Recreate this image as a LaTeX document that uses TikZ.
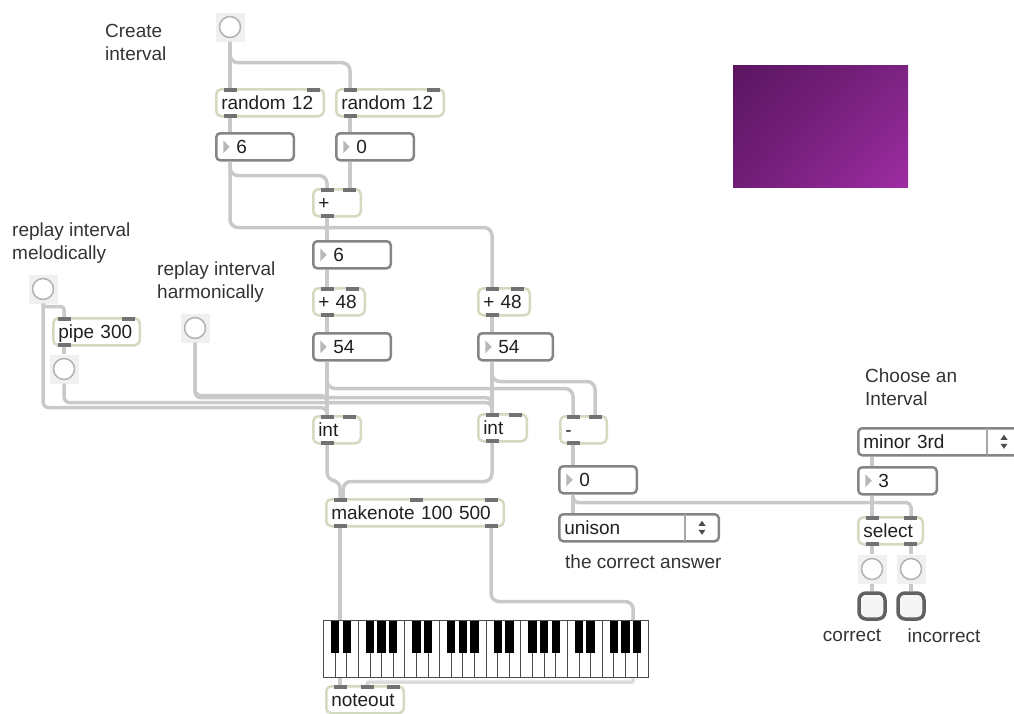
\documentclass[tikz,border=0pt]{standalone}
\usepackage{fontspec}
\setmainfont{Liberation Sans}
\usetikzlibrary{shadings}

\definecolor{objline}{HTML}{D2DABF}
\definecolor{numline}{HTML}{858585}
\definecolor{patchcord}{HTML}{C9C9C9}
\definecolor{tabgray}{HTML}{727272}
\definecolor{ink}{HTML}{202020}
\definecolor{swA}{HTML}{5A1560}
\definecolor{swB}{HTML}{7C2382}
\definecolor{swC}{HTML}{701E76}
\definecolor{swD}{HTML}{9E2CA3}

\newcommand{\inlettabs}[2]{%
  \foreach \o in {#2}{\fill[porttab] ([xshift=\o pt]#1.north west) rectangle ++(13,4);}}
\newcommand{\outlettabs}[2]{%
  \foreach \o in {#2}{\fill[porttab] ([xshift=\o pt]#1.south west) rectangle ++(13,-4);}}

\begin{document}
\begin{tikzpicture}[
    x=1pt, y=-1pt,
    every node/.style={font=\fontsize{19}{23}\selectfont, text=ink},
    objbase/.style={line width=2.5pt, fill=white, anchor=north west, align=left,
        inner xsep=5pt, inner ysep=4pt, minimum height=27pt, text height=16pt, text depth=3pt},
    obj/.style={objbase, draw=objline, rounded corners=5pt, text width=#1-12.5pt},
    num/.style={objbase, draw=numline, rounded corners=4pt, text width=#1-12.5pt,
        execute at begin node=\hspace*{15pt},
        path picture={\fill[black!28, sharp corners] ([xshift=7pt,yshift=6.5pt]path picture bounding box.west)
            -- ++(6.5,6.5) -- ++(-6.5,6.5) -- cycle;}},
    menu/.style={objbase, draw=numline, rounded corners=4pt, text width=#1-12.5pt},
    bng/.style={minimum size=29pt, inner sep=0pt, fill=black!6,
        path picture={\draw[black!30, line width=1.5pt, fill=white]
            (path picture bounding box.center) circle (10.5pt);}},
    led/.style={draw=black!62, line width=3.5pt, rounded corners=7pt, fill=black!4,
        minimum size=26pt, inner sep=0pt},
    kbd/.style={anchor=north west, draw=black!70, line width=1.2pt, fill=white,
        minimum width=325pt, minimum height=57pt, inner sep=0pt},
    swatch/.style={anchor=north west, minimum width=175pt, minimum height=122pt, inner sep=0pt,
        upper left=swA, upper right=swB, lower left=swC, lower right=swD},
    cmt/.style={anchor=north west, align=left, inner sep=0pt, text=black!80},
    cable/.style={draw=patchcord, line width=3.5pt, rounded corners=8pt},
    porttab/.style={fill=tabgray}
]
\useasboundingbox (0,0) rectangle (1014,713);

% comments
\node[cmt] (lblGo) at (105,24) {Create\\interval};
\node[cmt] (lblMel) at (12,223) {replay interval\\melodically};
\node[cmt] (lblHarm) at (157,262) {replay interval\\harmonically};
\node[cmt] (lblAns) at (565,555) {the correct answer};
\node[cmt] (lblPick) at (865,369) {Choose an\\Interval};
\node[cmt, anchor=north] (lblYes) at (852,629) {correct};
\node[cmt, anchor=north] (lblNo) at (944,629) {incorrect};

\node[swatch] (swatch) at (733,65) {};

% bangs
\node[bng] (go) at (230,27) {};
\node[bng] (bMel) at (43,289) {};
\node[bng] (bPipe) at (64,369) {};
\node[bng] (bHarm) at (195,328) {};
\node[bng] (bYes) at (872,569) {};
\node[bng] (bNo) at (911,569) {};
\node[led] (ledYes) at (872,606) {};
\node[led] (ledNo) at (911,606) {};

% objects and number boxes
\node[obj=110] (rndL) at (215,88) {random 12};
\node[obj=110] (rndR) at (335,88) {random 12};
\node[num=80] (numA) at (215,132) {6};
\node[num=80] (numB) at (335,132) {0};
\node[obj=50] (plus) at (312,188) {+};
\node[num=80] (numSum) at (312,240) {6};
\node[obj=54] (addL) at (312,287) {+ 48};
\node[obj=54] (addR) at (477,287) {+ 48};
\node[num=80] (numL) at (312,332) {54};
\node[num=77] (numR) at (477,332) {54};
\node[obj=89] (pipe) at (52,317) {pipe 300};
\node[obj=50] (intL) at (312,415) {int};
\node[obj=51] (intR) at (477,413) {int};
\node[obj=49] (minus) at (559,415) {-};
\node[num=80] (numDiff) at (558,465) {0};
\node[menu=162] (menuAns) at (558,513) {unison};
\node[obj=180] (mknote) at (325,498) {makenote 100 500};
\node[kbd] (kbd) at (323,620) {};
\node[obj=80] (nout) at (325,685) {noteout};
\node[menu=165] (menuInt) at (857,427) {minor 3rd};
\node[num=81] (numSel) at (857,466) {3};
\node[obj=67] (sel) at (857,516) {select};

% keyboard
\foreach \k in {1,...,27}{
  \pgfmathsetmacro\kx{323.6+\k*11.607}
  \draw[black!70, line width=0.9pt] (\kx,620.6) -- (\kx,677.6);
}
\foreach \o in {0,...,3}
  \foreach \b in {1,2,4,5,6}{
    \pgfmathsetmacro\bx{323.6+(\o*7+\b)*11.607}
    \fill[black] (\bx-4.2,621) rectangle (\bx+4.2,653);
  }

% umenu arrows
\foreach \m in {menuAns, menuInt}{
  \draw[black!35, line width=1.5pt] ([xshift=-35pt,yshift=-1.25pt]\m.north east) -- ([xshift=-35pt,yshift=1.25pt]\m.south east);
  \fill[black!70] ([xshift=-18pt,yshift=2pt]\m.east) ++(-3.5,0) -- ++(7,0) -- ++(-3.5,-5) -- cycle;
  \fill[black!70] ([xshift=-18pt,yshift=-2pt]\m.east) ++(-3.5,0) -- ++(7,0) -- ++(-3.5,5) -- cycle;
}

% patch cords
\draw[cable] (go.south) -- ([xshift=15pt]rndL.north west);
\draw[cable] (go.south) -- ++(0,21) -| ([xshift=15pt]rndR.north west);
\draw[cable] ([xshift=15pt]rndL.south west) -- ([xshift=15pt]numA.north west);
\draw[cable] ([xshift=15pt]rndR.south west) -- ([xshift=15pt]numB.north west);
\draw[cable] ([xshift=15pt]numA.south west) -- ++(0,14) -| ([xshift=15pt]plus.north west);
\draw[cable] ([xshift=15pt]numA.south west) -- ++(0,66) -| ([xshift=15pt]addR.north west);
\draw[cable] ([xshift=15pt]numB.south west) -- ([xshift=15pt]numB.south west |- plus.north);
\draw[cable] ([xshift=15pt]plus.south west) -- ([xshift=15pt]numSum.north west);
\draw[cable] ([xshift=15pt]numSum.south west) -- ([xshift=15pt]addL.north west);
\draw[cable] ([xshift=15pt]addL.south west) -- ([xshift=15pt]numL.north west);
\draw[cable] ([xshift=15pt]addR.south west) -- ([xshift=15pt]numR.north west);
\draw[cable] ([xshift=15pt]numL.south west) -- ([xshift=15pt]intL.north west);
\draw[cable] ([xshift=15pt]numR.south west) -- ([xshift=15pt]intR.north west);
\draw[cable] ([xshift=15pt]numL.south west) -- ++(0,27) -| ([xshift=14pt]minus.north west);
\draw[cable] ([xshift=15pt]numR.south west) -- ++(0,20) -| ([xshift=36pt]minus.north west);
\draw[cable, rounded corners=3pt] (bMel.south) -- ++(0,3) -| ([xshift=12pt]pipe.north west);
\draw[cable] ([xshift=12pt]pipe.south west) -- (bPipe.north);
\draw[cable, rounded corners=6pt] (bMel.south) -- ++(0,104) -| ([xshift=15pt]intL.north west);
\draw[cable, rounded corners=6pt] (bPipe.south) -- ++(0,19) -| ([xshift=15pt]intR.north west);
\draw[cable, rounded corners=6pt] (bHarm.south) -- ++(0,53) -| ([xshift=15pt]intL.north west);
\draw[cable, rounded corners=6pt] (bHarm.south) -- ++(0,55) -| ([xshift=15pt]intR.north west);
\draw[cable] ([xshift=15pt]intL.south west) -- ++(0,36) -| ([xshift=15pt]mknote.north west);
\draw[cable] ([xshift=15pt]intR.south west) -- ++(0,39) -| ([xshift=18pt]mknote.north west);
\draw[cable] ([xshift=15pt]mknote.south west) -- ([xshift=17pt]kbd.north west);
\draw[cable] ([xshift=166pt]mknote.south west) -- ++(0,74) -| ([xshift=-16pt]kbd.north east);
\draw[cable] ([xshift=17pt]kbd.south west) -- ([xshift=15pt]nout.north west);
\draw[cable, draw=black!14, rounded corners=2pt] ([xshift=-16pt]kbd.south east) -- ++(0,4) -| ([xshift=42pt]nout.north west);
\draw[cable] ([xshift=14pt]minus.south west) -- ([xshift=15pt]numDiff.north west);
\draw[cable] ([xshift=15pt]numDiff.south west) -- ([xshift=15pt]menuAns.north west);
\draw[cable, rounded corners=5pt] ([xshift=15pt]numDiff.south west) -- ++(0,8) -| ([xshift=54pt]sel.north west);
\draw[cable] ([xshift=15pt]menuInt.south west) -- ([xshift=15pt]numSel.north west);
\draw[cable] ([xshift=15pt]numSel.south west) -- ([xshift=15pt]sel.north west);
\draw[cable] ([xshift=15pt]sel.south west) -- (bYes.north);
\draw[cable] ([xshift=54pt]sel.south west) -- (bNo.north);
\draw[cable] (bYes.south) -- (ledYes.north);
\draw[cable] (bNo.south) -- (ledNo.north);

% inlets and outlets
\inlettabs{rndL}{9,92}   \outlettabs{rndL}{9}
\inlettabs{rndR}{9,92}   \outlettabs{rndR}{9}
\inlettabs{plus}{9,31}   \outlettabs{plus}{9}
\inlettabs{addL}{9,34}   \outlettabs{addL}{9}
\inlettabs{addR}{9,34}   \outlettabs{addR}{9}
\inlettabs{pipe}{6,70}   \outlettabs{pipe}{6}
\inlettabs{intL}{9,31}   \outlettabs{intL}{9}
\inlettabs{intR}{9,32}   \outlettabs{intR}{9}
\inlettabs{minus}{8,30}  \outlettabs{minus}{8}
\inlettabs{mknote}{9,85,160} \outlettabs{mknote}{9,160}
\inlettabs{nout}{9,36,62}
\inlettabs{sel}{9,47}    \outlettabs{sel}{9,47}
\end{tikzpicture}
\end{document}
